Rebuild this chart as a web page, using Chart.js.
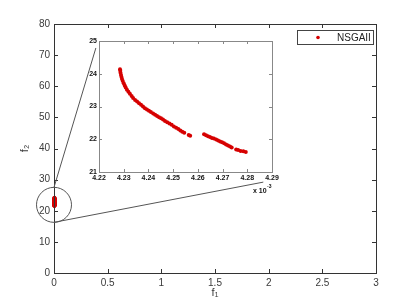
<!DOCTYPE html>
<html>
<head>
<meta charset="utf-8">
<script src="https://cdn.jsdelivr.net/npm/chart.js@4.4.0/dist/chart.umd.min.js"></script>
<style>
  html, body { margin: 0; padding: 0; background: #fff; }
  #wrap { position: relative; width: 415px; height: 308px; }
  #mainChart { position: absolute; left: 0; top: 0; }
  #insetChart { position: absolute; left: 70px; top: 30px; }
</style>
</head>
<body>
<div id="wrap">
  <canvas id="mainChart" width="415" height="308"></canvas>
  <canvas id="insetChart" width="215" height="170"></canvas>
</div>
<script>
// --- Data ---
const seriesLabel = 'NSGAII';

// f1 in units of 1e-3 (inset axis shows "x 10^-3")
const f1Scaled = [
  4.2285, 4.2286, 4.2287, 4.2289, 4.2291, 4.2293, 4.2296, 4.2300, 4.2304, 4.2308,
  4.2313, 4.2319, 4.2325, 4.2332, 4.2338, 4.2346, 4.2354, 4.2362, 4.2370, 4.2378,
  4.2386, 4.2394, 4.2402, 4.2410, 4.2419, 4.2427, 4.2435, 4.2443, 4.2451, 4.2459,
  4.2467, 4.2476, 4.2485, 4.2494, 4.2503, 4.2512, 4.2521, 4.2529, 4.2537, 4.2545,
  4.2563, 4.2569,
  4.2625, 4.2633, 4.2641, 4.2649, 4.2657, 4.2665, 4.2674, 4.2682, 4.2690, 4.2698,
  4.2706, 4.2714, 4.2722, 4.2730, 4.2737, 4.2755, 4.2763, 4.2773, 4.2784, 4.2794
];
const f2Values = [
  24.14, 24.09, 24.03, 23.96, 23.90, 23.84, 23.78, 23.71, 23.64, 23.58,
  23.51, 23.45, 23.39, 23.32, 23.26, 23.20, 23.15, 23.10, 23.05, 23.00,
  22.95, 22.91, 22.87, 22.83, 22.79, 22.75, 22.71, 22.67, 22.64, 22.60,
  22.56, 22.52, 22.48, 22.44, 22.39, 22.35, 22.31, 22.27, 22.23, 22.20,
  22.13, 22.11,
  22.15, 22.12, 22.09, 22.07, 22.04, 22.02, 21.99, 21.96, 21.93, 21.91,
  21.88, 21.84, 21.81, 21.78, 21.75, 21.69, 21.67, 21.64, 21.63, 21.61
];
const f1Exponent = -3;

// Tick labels
const mainXTicks = [0, 0.5, 1, 1.5, 2, 2.5, 3];
const mainYTicks = [0, 10, 20, 30, 40, 50, 60, 70, 80];
const insetXTicks = [4.22, 4.23, 4.24, 4.25, 4.26, 4.27, 4.28, 4.29];
const insetYTicks = [21, 22, 23, 24, 25];

// Zoom marker (main-axes data coords)
const zoomCenter = { x: 0, y: 21.9 };
const zoomLineEnds = [{ x: 0.39, y: 72.3 }, { x: 1.95, y: 29.2 }];

// --- Helpers ---
const RED = 'rgb(214, 0, 0)';
const FONT = 'Arial, "Liberation Sans", sans-serif';

const mainPoints = f1Scaled.map((v, i) => ({ x: v * Math.pow(10, f1Exponent), y: f2Values[i] }));
const insetPoints = f1Scaled.map((v, i) => ({ x: v, y: f2Values[i] }));

function fixedTicks(arr) {
  return scale => { scale.ticks = arr.map(v => ({ value: v })); };
}

// box around the plot + inward tick marks on all four sides
function boxTicks(color, len) {
  return {
    id: 'boxTicks',
    afterDraw(chart) {
      const { ctx, chartArea: a, scales: { x, y } } = chart;
      ctx.save();
      ctx.strokeStyle = color;
      ctx.lineWidth = 1;
      ctx.strokeRect(a.left + 0.5, a.top + 0.5, a.right - a.left, a.bottom - a.top);
      ctx.beginPath();
      x.ticks.forEach(t => {
        const px = Math.round(x.getPixelForValue(t.value)) + 0.5;
        ctx.moveTo(px, a.bottom); ctx.lineTo(px, a.bottom - len);
        ctx.moveTo(px, a.top); ctx.lineTo(px, a.top + len);
      });
      y.ticks.forEach(t => {
        const py = Math.round(y.getPixelForValue(t.value)) + 0.5;
        ctx.moveTo(a.left, py); ctx.lineTo(a.left + len, py);
        ctx.moveTo(a.right, py); ctx.lineTo(a.right - len, py);
      });
      ctx.stroke();
      ctx.restore();
    }
  };
}

// zoom circle, connector lines and the legend box
const mainExtras = {
  id: 'mainExtras',
  afterDraw(chart) {
    const { ctx, chartArea: a, scales: { x, y } } = chart;
    const cx = x.getPixelForValue(zoomCenter.x);
    const cy = y.getPixelForValue(zoomCenter.y);
    const r = 17.5;
    ctx.save();
    ctx.strokeStyle = '#555';
    ctx.lineWidth = 1;
    ctx.beginPath();
    ctx.arc(cx, cy, r, 0, Math.PI * 2);
    ctx.stroke();
    ctx.beginPath();
    ctx.moveTo(cx, cy - r);
    ctx.lineTo(x.getPixelForValue(zoomLineEnds[0].x), y.getPixelForValue(zoomLineEnds[0].y));
    ctx.moveTo(cx, cy + r);
    ctx.lineTo(x.getPixelForValue(zoomLineEnds[1].x), y.getPixelForValue(zoomLineEnds[1].y));
    ctx.stroke();

    // legend
    const bw = 76, bh = 14;
    const bx = a.right - 3 - bw, by = a.top + 6;
    ctx.fillStyle = '#fff';
    ctx.fillRect(bx, by, bw, bh);
    ctx.strokeStyle = '#444';
    ctx.strokeRect(bx + 0.5, by + 0.5, bw, bh);
    ctx.fillStyle = chart.data.datasets[0].backgroundColor;
    ctx.beginPath();
    ctx.arc(bx + 21, by + bh / 2 + 0.5, 1.8, 0, Math.PI * 2);
    ctx.fill();
    ctx.fillStyle = '#222';
    ctx.font = '10px ' + FONT;
    ctx.textBaseline = 'middle';
    ctx.fillText(chart.data.datasets[0].label, bx + 40, by + bh / 2 + 1);
    ctx.restore();
  }
};

const insetExtras = {
  id: 'insetExtras',
  afterDraw(chart) {
    const { ctx, chartArea: a } = chart;
    ctx.save();
    ctx.fillStyle = '#111';
    ctx.textBaseline = 'middle';
    ctx.font = 'bold 7px ' + FONT;
    const tx = a.right - 19, ty = a.bottom + 19;
    ctx.fillText('x 10', tx, ty);
    const w = ctx.measureText('x 10').width;
    ctx.font = 'bold 5px ' + FONT;
    ctx.fillText(String(f1Exponent), tx + w + 0.5, ty - 4);
    ctx.restore();
  }
};

// --- Main chart ---
new Chart(document.getElementById('mainChart'), {
  type: 'scatter',
  data: {
    datasets: [{
      label: seriesLabel,
      data: mainPoints,
      backgroundColor: RED,
      borderColor: RED,
      pointRadius: 2,
      borderWidth: 0,
      clip: false
    }]
  },
  options: {
    responsive: false,
    devicePixelRatio: 1,
    animation: false,
    layout: { padding: { left: 0, top: 24, right: 39, bottom: 0 } },
    plugins: { legend: { display: false }, tooltip: { enabled: false } },
    scales: {
      x: {
        type: 'linear', min: 0, max: 3,
        afterBuildTicks: fixedTicks(mainXTicks),
        afterFit: s => { s.height = 35; },
        grid: { display: false, drawTicks: false },
        border: { display: false },
        ticks: { padding: 4, color: '#3a3a3a', font: { family: FONT, size: 10 }, maxRotation: 0, callback: v => String(v) },
        title: { display: true, text: 'f₁', color: '#3a3a3a', font: { family: FONT, size: 11 }, padding: { top: 0, bottom: 8 } }
      },
      y: {
        type: 'linear', min: 0, max: 80,
        afterBuildTicks: fixedTicks(mainYTicks),
        afterFit: s => { s.width = 54; },
        grid: { display: false, drawTicks: false },
        border: { display: false },
        ticks: { padding: 4, color: '#3a3a3a', font: { family: FONT, size: 10 }, callback: v => String(v) },
        title: { display: true, text: 'f₂', color: '#3a3a3a', font: { family: FONT, size: 11 }, padding: { top: 18, bottom: 0 } }
      }
    }
  },
  plugins: [boxTicks('#333', 4), mainExtras]
});

// --- Inset chart ---
new Chart(document.getElementById('insetChart'), {
  type: 'scatter',
  data: {
    datasets: [{
      label: seriesLabel,
      data: insetPoints,
      backgroundColor: RED,
      borderColor: RED,
      pointRadius: 2,
      borderWidth: 0
    }]
  },
  options: {
    responsive: false,
    devicePixelRatio: 1,
    animation: false,
    layout: { padding: { left: 0, top: 11, right: 13, bottom: 0 } },
    plugins: { legend: { display: false }, tooltip: { enabled: false } },
    scales: {
      x: {
        type: 'linear', min: 4.22, max: 4.29,
        afterBuildTicks: fixedTicks(insetXTicks),
        afterFit: s => { s.height = 28; },
        grid: { display: false, drawTicks: false },
        border: { display: false },
        ticks: { padding: 2, color: '#111', font: { family: FONT, size: 7, weight: 'bold' }, maxRotation: 0, autoSkip: false, callback: v => v.toFixed(2) }
      },
      y: {
        type: 'linear', min: 21, max: 25,
        afterBuildTicks: fixedTicks(insetYTicks),
        afterFit: s => { s.width = 29; },
        grid: { display: false, drawTicks: false },
        border: { display: false },
        ticks: { padding: 2, color: '#111', font: { family: FONT, size: 7, weight: 'bold' }, callback: v => String(v) }
      }
    }
  },
  plugins: [boxTicks('#888', 3), insetExtras]
});
</script>
</body>
</html>
